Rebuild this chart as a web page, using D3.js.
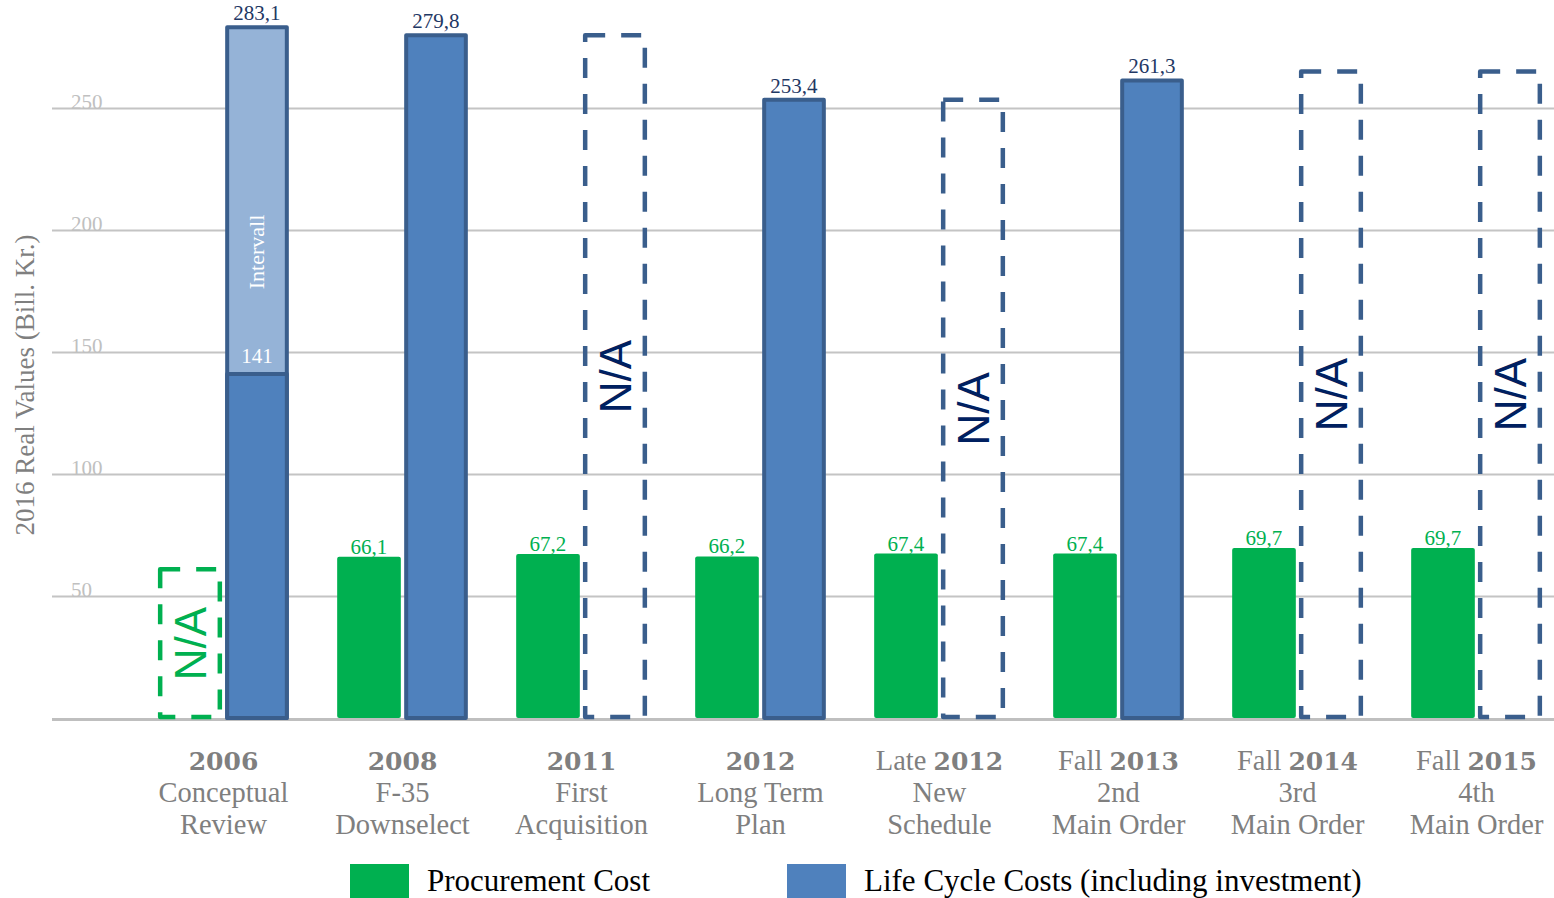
<!DOCTYPE html>
<html>
<head>
<meta charset="utf-8">
<script src="https://cdn.jsdelivr.net/npm/d3@7"></script>
<style>
  body { margin: 0; background: #fff; }
  text { font-family: "Liberation Serif", "Times New Roman", serif; }
</style>
</head>
<body>
<div id="chart"></div>
<script>
// chart values
var prefixes = ['', '', '', '', 'Late ', 'Fall ', 'Fall ', 'Fall '];
var years = ['2006', '2008', '2011', '2012', '2012', '2013', '2014', '2015'];
var line2 = ['Conceptual', 'F-35', 'First', 'Long Term', 'New', '2nd', '3rd', '4th'];
var line3 = ['Review', 'Downselect', 'Acquisition', 'Plan', 'Schedule', 'Main Order', 'Main Order', 'Main Order'];

var procurement = [null, 66.1, 67.2, 66.2, 67.4, 67.4, 69.7, 69.7];
var lifeCycle = [283.1, 279.8, null, 253.4, null, 261.3, null, null];
var intervalLow = [141, null, null, null, null, null, null, null];

// N/A placeholder heights (as drawn)
var naProcurement = [61, null, null, null, null, null, null, null];
var naLifeCycle = [null, null, 279.8, null, 253.4, null, 265, 265];

var yTicks = [50, 100, 150, 200, 250];
var legendNames = ['Procurement Cost', 'Life Cycle Costs (including investment)'];

var width = 1554, height = 898;
var green = '#00B050', blue = '#4F81BD', blueLight = '#95B3D7', blueEdge = '#3A5E8C', navy = '#1F3864';
var gray = '#7F7F7F';

var svg = d3.select('#chart')
    .append('svg')
    .attr('width', width)
    .attr('height', height);

var idx = d3.range(years.length);

var x0 = d3.scaleBand()
    .domain(idx)
    .range([134, 1566])
    .paddingInner(0.27)
    .paddingOuter(0.135);

var x1 = d3.scaleBand()
    .domain(['proc', 'life'])
    .range([0, x0.bandwidth()])
    .paddingInner(0.05);

var y = d3.scaleLinear()
    .domain([0, 250])
    .range([718, 108]);

// gridlines + tick labels
var yAxis = svg.append('g')
    .attr('transform', 'translate(52,0)')
    .call(d3.axisLeft(y).tickValues(yTicks).tickSize(-(width - 52)).tickFormat(d3.format('d')));
yAxis.select('.domain').remove();
yAxis.selectAll('.tick line').attr('stroke', '#C4C4C4').attr('stroke-width', 2);
yAxis.selectAll('.tick text')
    .attr('x', 19)
    .attr('dy', 0)
    .attr('text-anchor', 'start')
    .attr('fill', '#C0C0C0')
    .style('font-family', '"Liberation Serif", serif')
    .style('font-size', '21px');

// baseline
svg.append('line')
    .attr('x1', 52).attr('x2', width)
    .attr('y1', 719.5).attr('y2', 719.5)
    .attr('stroke', '#BFBFBF')
    .attr('stroke-width', 3);

svg.append('text')
    .attr('transform', 'translate(34,385) rotate(-90)')
    .attr('text-anchor', 'middle')
    .attr('fill', gray)
    .style('font-size', '27px')
    .text('2016 Real Values (Bill. Kr.)');

var groups = svg.selectAll('.grp')
    .data(idx)
    .enter()
    .append('g')
    .attr('class', 'grp')
    .attr('transform', function (i) { return 'translate(' + x0(i) + ',0)'; });

// procurement bars
groups.filter(function (i) { return procurement[i] != null; })
    .append('rect')
    .attr('x', x1('proc'))
    .attr('y', function (i) { return y(procurement[i]); })
    .attr('width', x1.bandwidth())
    .attr('height', function (i) { return y(0) - y(procurement[i]); })
    .attr('rx', 2)
    .attr('fill', green);

groups.filter(function (i) { return procurement[i] != null; })
    .append('text')
    .attr('x', x1('proc') + x1.bandwidth() / 2)
    .attr('y', function (i) { return y(procurement[i]) - 3; })
    .attr('text-anchor', 'middle')
    .attr('fill', green)
    .style('font-size', '21px')
    .text(function (i) { return procurement[i].toFixed(1).replace('.', ','); });

// life cycle bars
groups.filter(function (i) { return lifeCycle[i] != null; })
    .append('rect')
    .attr('x', x1('life') + 2)
    .attr('y', function (i) { return y(lifeCycle[i]); })
    .attr('width', x1.bandwidth() - 4)
    .attr('height', function (i) { return y(0) - y(lifeCycle[i]); })
    .attr('fill', function (i) { return intervalLow[i] != null ? blueLight : blue; })
    .attr('stroke', blueEdge)
    .attr('stroke-width', 4)
    .attr('stroke-linejoin', 'round');

// lower solid part of the interval bar
var intv = groups.filter(function (i) { return intervalLow[i] != null; });
intv.append('rect')
    .attr('x', x1('life') + 2)
    .attr('y', function (i) { return y(intervalLow[i]); })
    .attr('width', x1.bandwidth() - 4)
    .attr('height', function (i) { return y(0) - y(intervalLow[i]); })
    .attr('fill', blue)
    .attr('stroke', blueEdge)
    .attr('stroke-width', 4)
    .attr('stroke-linejoin', 'round');

intv.append('text')
    .attr('x', x1('life') + x1.bandwidth() / 2)
    .attr('y', function (i) { return y(intervalLow[i]) - 11; })
    .attr('text-anchor', 'middle')
    .attr('fill', '#fff')
    .style('font-size', '21px')
    .text(function (i) { return intervalLow[i]; });

intv.append('text')
    .attr('transform', function (i) {
        var cy = y(intervalLow[i]) - 122;
        return 'translate(' + (x1('life') + x1.bandwidth() / 2 + 7) + ',' + cy + ') rotate(-90)';
    })
    .attr('text-anchor', 'middle')
    .attr('fill', '#fff')
    .style('font-size', '22px')
    .text('Intervall');

groups.filter(function (i) { return lifeCycle[i] != null; })
    .append('text')
    .attr('x', x1('life') + x1.bandwidth() / 2)
    .attr('y', function (i) { return y(lifeCycle[i]) - 7; })
    .attr('text-anchor', 'middle')
    .attr('fill', navy)
    .style('font-size', '21px')
    .text(function (i) { return lifeCycle[i].toFixed(1).replace('.', ','); });

// N/A placeholders
function naBox(sel, key, vals, color, textColor) {
    var g = sel.filter(function (i) { return vals[i] != null; });
    g.append('rect')
        .attr('x', x1(key) + 2)
        .attr('y', function (i) { return y(vals[i]); })
        .attr('width', x1.bandwidth() - 4)
        .attr('height', function (i) { return y(0) - y(vals[i]) - 1; })
        .attr('fill', 'none')
        .attr('stroke', color)
        .attr('stroke-width', 4.5)
        .attr('stroke-dasharray', '20,16')
        .attr('stroke-linejoin', 'round');
    g.append('text')
        .attr('transform', function (i) {
            var cy = (y(vals[i]) + y(0)) / 2;
            return 'translate(' + (x1(key) + x1.bandwidth() / 2 + 16) + ',' + cy + ') rotate(-90)';
        })
        .attr('text-anchor', 'middle')
        .attr('fill', textColor)
        .style('font-family', '"Liberation Sans", Arial, sans-serif')
        .style('font-size', '44px')
        .text('N/A');
}
naBox(groups, 'proc', naProcurement, green, green);
naBox(groups, 'life', naLifeCycle, blueEdge, '#002060');

// x labels
var lab = groups.append('text')
    .attr('text-anchor', 'middle')
    .attr('fill', gray)
    .style('font-size', '28.5px');
var l1 = lab.append('tspan')
    .attr('x', x0.bandwidth() / 2)
    .attr('y', 770);
l1.append('tspan').text(function (i) { return prefixes[i]; });
l1.append('tspan')
    .style('font-family', '"DejaVu Serif", serif')
    .style('font-weight', 'bold')
    .style('font-size', '25px')
    .text(function (i) { return years[i]; });
lab.append('tspan')
    .attr('x', x0.bandwidth() / 2)
    .attr('y', 802)
    .text(function (i) { return line2[i]; });
lab.append('tspan')
    .attr('x', x0.bandwidth() / 2)
    .attr('y', 834)
    .text(function (i) { return line3[i]; });

// legend
var legendX = [350, 787];
var legendColors = [green, blue];
var leg = svg.selectAll('.leg')
    .data(legendNames)
    .enter()
    .append('g')
    .attr('class', 'leg')
    .attr('transform', function (d, i) { return 'translate(' + legendX[i] + ',864)'; });
leg.append('rect')
    .attr('width', 59)
    .attr('height', 34)
    .attr('fill', function (d, i) { return legendColors[i]; });
leg.append('text')
    .attr('x', 77)
    .attr('y', 27)
    .attr('fill', '#000')
    .style('font-size', '31px')
    .text(function (d) { return d; });
</script>
</body>
</html>
